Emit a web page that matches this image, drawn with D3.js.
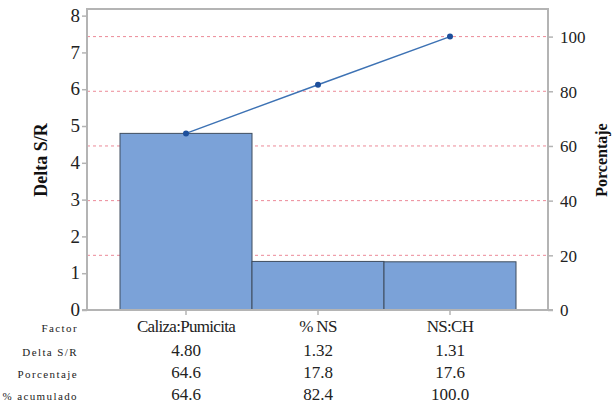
<!DOCTYPE html>
<html>
<head>
<meta charset="utf-8">
<script src="https://cdn.jsdelivr.net/npm/d3@7/dist/d3.min.js"></script>
<style>
  html, body { margin: 0; padding: 0; background: #fff; }
</style>
</head>
<body>
<svg id="chart" width="613" height="404"></svg>
<script>
// Pareto of effects on the S/R ratio
const factors = ["Caliza:Pumicita", "% NS", "NS:CH"];
const deltaSR = [4.80, 1.32, 1.31];
const percentLabels = ["64.6", "17.8", "17.6"];
const cumulative = [64.6, 82.4, 100.0];
const deltaLabels = ["4.80", "1.32", "1.31"];
const cumulativeLabels = ["64.6", "82.4", "100.0"];
const leftTicks = [0, 1, 2, 3, 4, 5, 6, 7, 8];
const rightTicks = [0, 20, 40, 60, 80, 100];
const rowNames = ["Factor", "Delta S/R", "Porcentaje", "% acumulado"];

const serif = "'Liberation Serif', 'Times New Roman', serif";
const svg = d3.select("#chart");
const plot = { left: 87, right: 548, top: 9, bottom: 310 };
const total = d3.sum(deltaSR);

const x = d3.scaleBand().domain(factors).range([120, 516]).padding(0);
const y = d3.scaleLinear().domain([0, 8.18]).range([plot.bottom, plot.top]);
// right axis: 0..100 % spans 0..total of the left scale
const yPct = d3.scaleLinear().domain([0, 100]).range([y(0), y(total)]);

const frameColor = "#b4b4b4";

// dashed reference lines at the percentage ticks
svg.append("g").selectAll("line")
  .data(rightTicks.filter(d => d > 0))
  .join("line")
  .attr("x1", plot.left).attr("x2", plot.right)
  .attr("y1", d => yPct(d)).attr("y2", d => yPct(d))
  .attr("stroke", "#ec8a98").attr("stroke-width", 1)
  .attr("stroke-dasharray", "3,3");

// bars
svg.append("g").selectAll("rect")
  .data(factors)
  .join("rect")
  .attr("x", d => x(d))
  .attr("width", x.bandwidth())
  .attr("y", (d, i) => y(deltaSR[i]))
  .attr("height", (d, i) => y(0) - y(deltaSR[i]))
  .attr("fill", "#7ba2d8")
  .attr("stroke", "#3f4d5e")
  .attr("stroke-width", 1);

// cumulative line
const cx = d => x(d) + x.bandwidth() / 2;
svg.append("path")
  .datum(factors)
  .attr("fill", "none")
  .attr("stroke", "#3d72b4")
  .attr("stroke-width", 1.5)
  .attr("d", d3.line().x(d => cx(d)).y((d, i) => yPct(cumulative[i])));
svg.append("g").selectAll("circle")
  .data(factors)
  .join("circle")
  .attr("cx", d => cx(d))
  .attr("cy", (d, i) => yPct(cumulative[i]))
  .attr("r", 3)
  .attr("fill", "#1d4f9c");

// frame
svg.append("path")
  .attr("d", `M${plot.left},${plot.bottom}V${plot.top}H${plot.right}V${plot.bottom}`)
  .attr("fill", "none").attr("stroke", frameColor).attr("stroke-width", 2);

// left axis
const leftAxis = svg.append("g")
  .attr("transform", `translate(${plot.left},0)`)
  .call(d3.axisLeft(y).tickValues(leftTicks).tickSize(5).tickPadding(2).tickFormat(d3.format("d")));
leftAxis.select(".domain").remove();
leftAxis.selectAll(".tick line").attr("stroke", frameColor).attr("stroke-width", 1.5);
leftAxis.selectAll(".tick text").style("font-family", serif).style("font-size", "19px")
  .attr("fill", "#222").attr("dy", "0.3em");

// right axis
const rightAxis = svg.append("g")
  .attr("transform", `translate(${plot.right},0)`)
  .call(d3.axisRight(yPct).tickValues(rightTicks).tickSize(5).tickPadding(7));
rightAxis.select(".domain").remove();
rightAxis.selectAll(".tick line").attr("stroke", frameColor).attr("stroke-width", 1.5);
rightAxis.selectAll(".tick text").style("font-family", serif).style("font-size", "17px")
  .attr("fill", "#222").attr("dy", "0.35em");

// bottom axis
const bottomAxis = svg.append("g")
  .attr("transform", `translate(0,${plot.bottom})`)
  .call(d3.axisBottom(x).tickSize(5).tickFormat(""));
bottomAxis.select(".domain")
  .attr("d", `M${plot.left - 5},0H${plot.right + 5}`)
  .attr("stroke", frameColor).attr("stroke-width", 2);
bottomAxis.selectAll(".tick line").attr("stroke", frameColor).attr("stroke-width", 1.5);

// axis titles
svg.append("text")
  .attr("transform", "translate(47,160) rotate(-90)")
  .attr("text-anchor", "middle")
  .style("font-family", serif).style("font-size", "18px").style("font-weight", "bold")
  .attr("fill", "#111")
  .text("Delta S/R");
svg.append("text")
  .attr("transform", "translate(607,160) rotate(-90)")
  .attr("text-anchor", "middle")
  .style("font-family", serif).style("font-size", "16px").style("font-weight", "bold")
  .attr("fill", "#111")
  .text("Porcentaje");

// table below the chart
const rowY = [332, 356, 378, 400];
const rowValues = [factors, deltaLabels, percentLabels, cumulativeLabels];
rowNames.forEach((name, r) => {
  svg.append("text")
    .attr("x", 78).attr("y", rowY[r])
    .attr("text-anchor", "end")
    .style("font-family", serif).style("font-size", "11px").style("letter-spacing", "1.4px")
    .attr("fill", "#222")
    .text(name);
  svg.append("g").selectAll("text")
    .data(factors)
    .join("text")
    .attr("x", d => cx(d))
    .attr("y", rowY[r])
    .attr("text-anchor", "middle")
    .style("font-family", serif).style("font-size", "17px")
    .style("letter-spacing", r === 0 ? "-0.7px" : "0px")
    .attr("fill", "#222")
    .text((d, i) => rowValues[r][i]);
});
</script>
</body>
</html>
